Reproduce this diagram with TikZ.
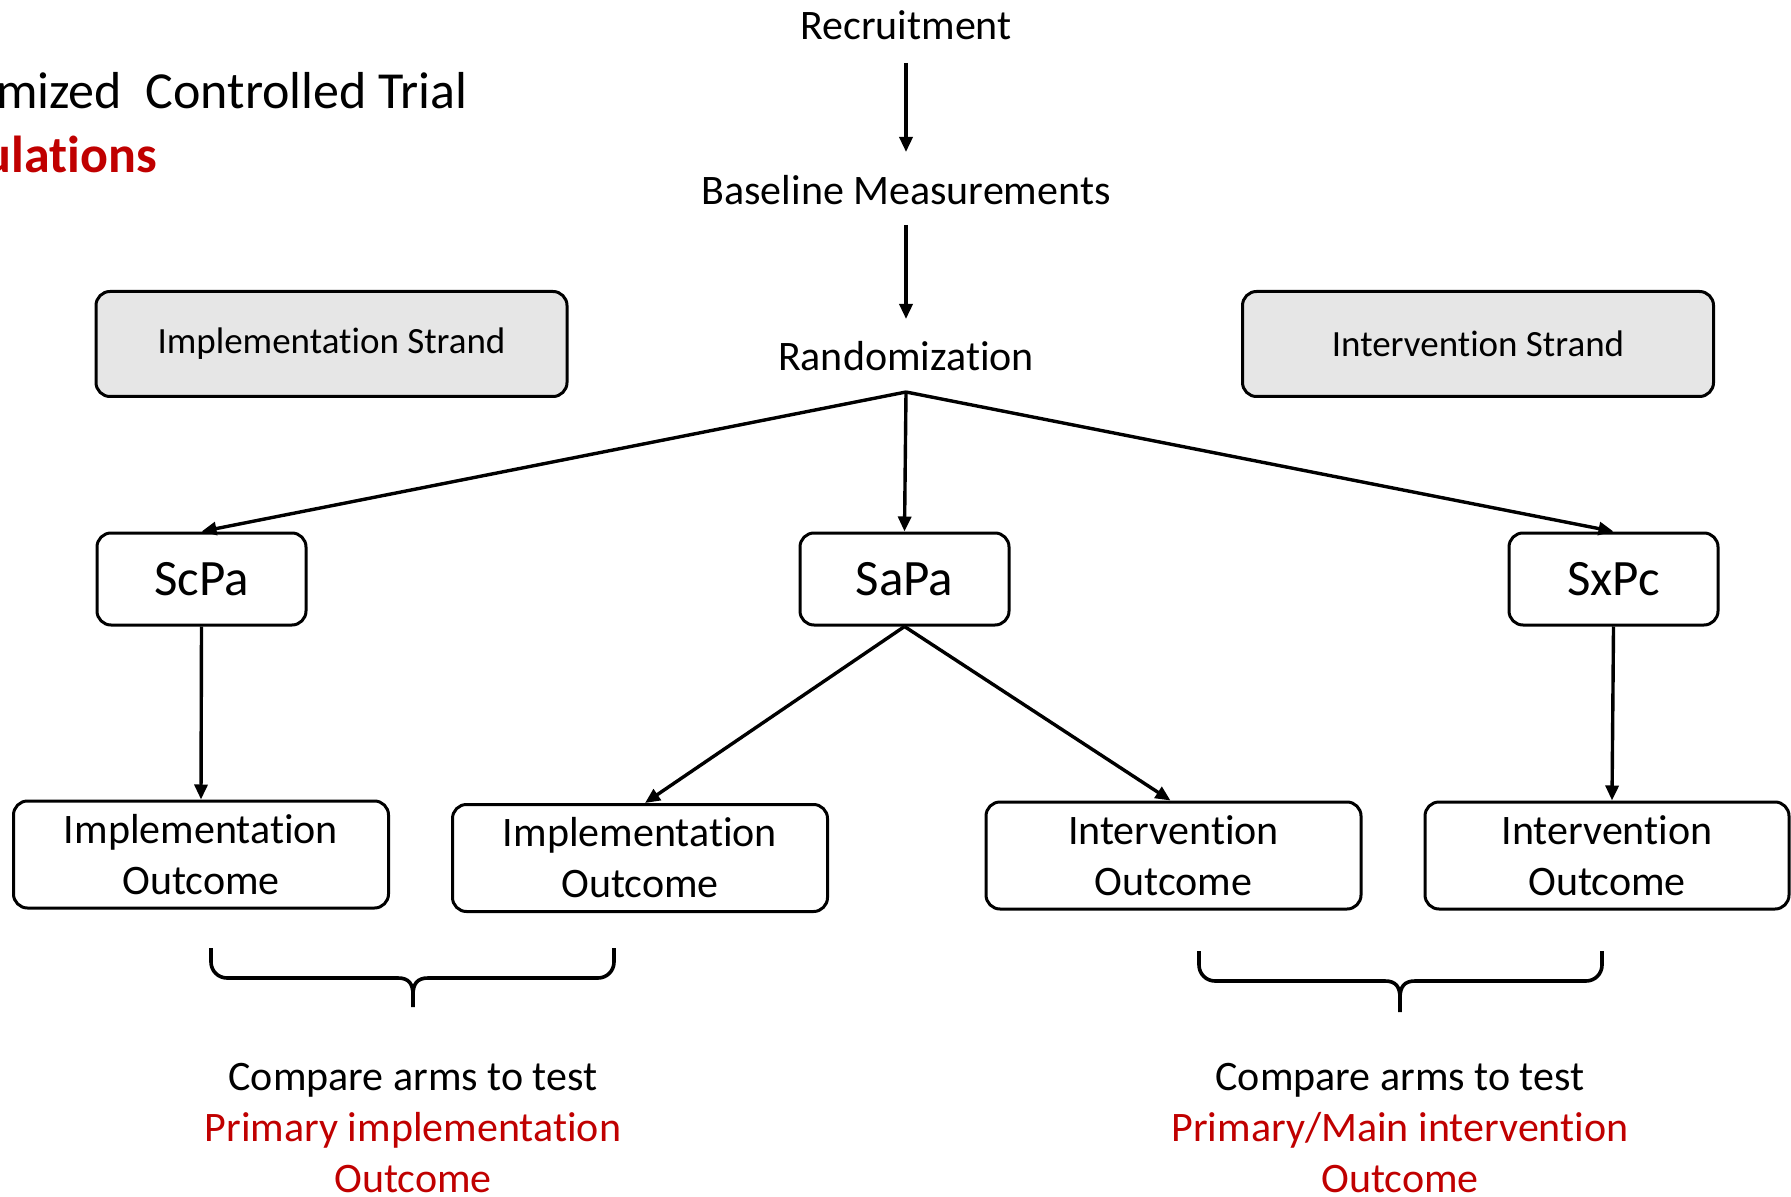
\documentclass[tikz,border=0pt]{standalone}
\usepackage{fontspec}
\setmainfont{Carlito}[Ligatures={NoCommon,NoRare,NoContextual},RawFeature={-liga;-clig;-dlig}]
\usetikzlibrary{arrows.meta,calc}
\definecolor{myred}{HTML}{C00000}
\definecolor{strandgray}{HTML}{E6E6E6}
\begin{document}
\begin{tikzpicture}[x=0.5pt,y=-0.5pt,
  txt/.style={font=\fontsize{21}{25.5}\selectfont, align=center, inner sep=0pt},
  strand/.style={draw, line width=1.5pt, rounded corners=7pt, fill=strandgray,
    minimum width=235.5pt, minimum height=52.5pt, inner sep=0pt,
    font=\fontsize{18.5}{22}\selectfont},
  arm/.style={draw, line width=1.5pt, rounded corners=7pt,
    minimum width=104.5pt, minimum height=46pt, inner sep=0pt,
    font=\fontsize{25.5}{30}\selectfont},
  outc/.style={draw, line width=1.5pt, rounded corners=7pt,
    minimum width=187.5pt, minimum height=53.5pt, inner sep=0pt, align=center,
    font=\fontsize{21}{25.5}\selectfont},
  arr/.style={-{Triangle[length=7.5pt,width=6.5pt]}, line width=1.7pt},
  bracestyle/.style={line width=1.8pt},
  ttl/.style={font=\fontsize{26}{31}\selectfont, inner sep=0pt}
]
\useasboundingbox (0,0) rectangle (1791,1197);

% title (cut off at the left edge)
\node[ttl, anchor=east] (t1) at (468,91) {mized\ \ Controlled Trial};
\node[ttl, anchor=east, text=myred, font=\fontsize{26}{31}\selectfont\bfseries] (t2) at (157,154) {ulations};

% top flow
\node[txt] (rec) at (906,25) {Recruitment};
\node[txt] (base) at (906,190) {Baseline Measurements};
\node[txt] (rand) at (906,356) {Randomization};
\coordinate (fork) at ($(rand)+(0,36)$);

% strands
\node[strand] (impst) at (331.5,344) {Implementation Strand};
\node[strand] (intst) at (1478,344) {Intervention Strand};

% arms
\node[arm] (scpa) at (201.5,579) {ScPa};
\node[arm] (sapa) at (904.5,579) {SaPa};
\node[arm] (sxpc) at (1613.5,579) {SxPc};

% outcomes
\node[outc] (io1) at (201,854.5) {Implementation\\Outcome};
\node[outc] (io2) at (640,858) {Implementation\\Outcome};
\node[outc] (vo1) at (1173.5,855.5) {Intervention\\Outcome};
\node[outc, minimum width=182pt] (vo2) at (1607,855.5) {Intervention\\Outcome};

% arrows
\draw[arr] ($(rec)+(0,38)$) -- ($(base)+(0,-38)$);
\draw[arr] ($(base)+(0,35)$) -- ($(rand)+(0,-37)$);
\draw[arr] (fork) -- (scpa.north);
\draw[arr] (fork) -- (sapa.north);
\draw[arr] (fork) -- (sxpc.north);
\draw[arr] (scpa.south) -- (io1.north);
\draw[arr] (sapa.south) -- ($(io2.north)+(5,0)$);
\draw[arr] (sapa.south) -- ($(vo1.north)+(-3,0)$);
\draw[arr] (sxpc.south) -- ($(vo2.north)+(5,0)$);

% left brace
\draw[bracestyle, rounded corners=8pt] (211,948) -- (211,978) -- (398,978);
\draw[bracestyle] (398,978) .. controls (409,978) and (413,984) .. (413,995) -- (413,1007);
\draw[bracestyle, rounded corners=8pt] (614,948) -- (614,978) -- (428,978);
\draw[bracestyle] (428,978) .. controls (417,978) and (413,984) .. (413,995);

% right brace
\draw[bracestyle, rounded corners=8pt] (1199,951) -- (1199,981) -- (1385,981);
\draw[bracestyle] (1385,981) .. controls (1396,981) and (1400,987) .. (1400,998) -- (1400,1012);
\draw[bracestyle, rounded corners=8pt] (1602,951) -- (1602,981) -- (1415,981);
\draw[bracestyle] (1415,981) .. controls (1404,981) and (1400,987) .. (1400,998);

% bottom texts
\node[txt] (cmp1) at (413,1128) {Compare arms to test\\\textcolor{myred}{Primary implementation}\\\textcolor{myred}{Outcome}};
\node[txt] (cmp2) at (1400,1128) {Compare arms to test\\\textcolor{myred}{Primary/Main intervention}\\\textcolor{myred}{Outcome}};
\end{tikzpicture}
\end{document}
